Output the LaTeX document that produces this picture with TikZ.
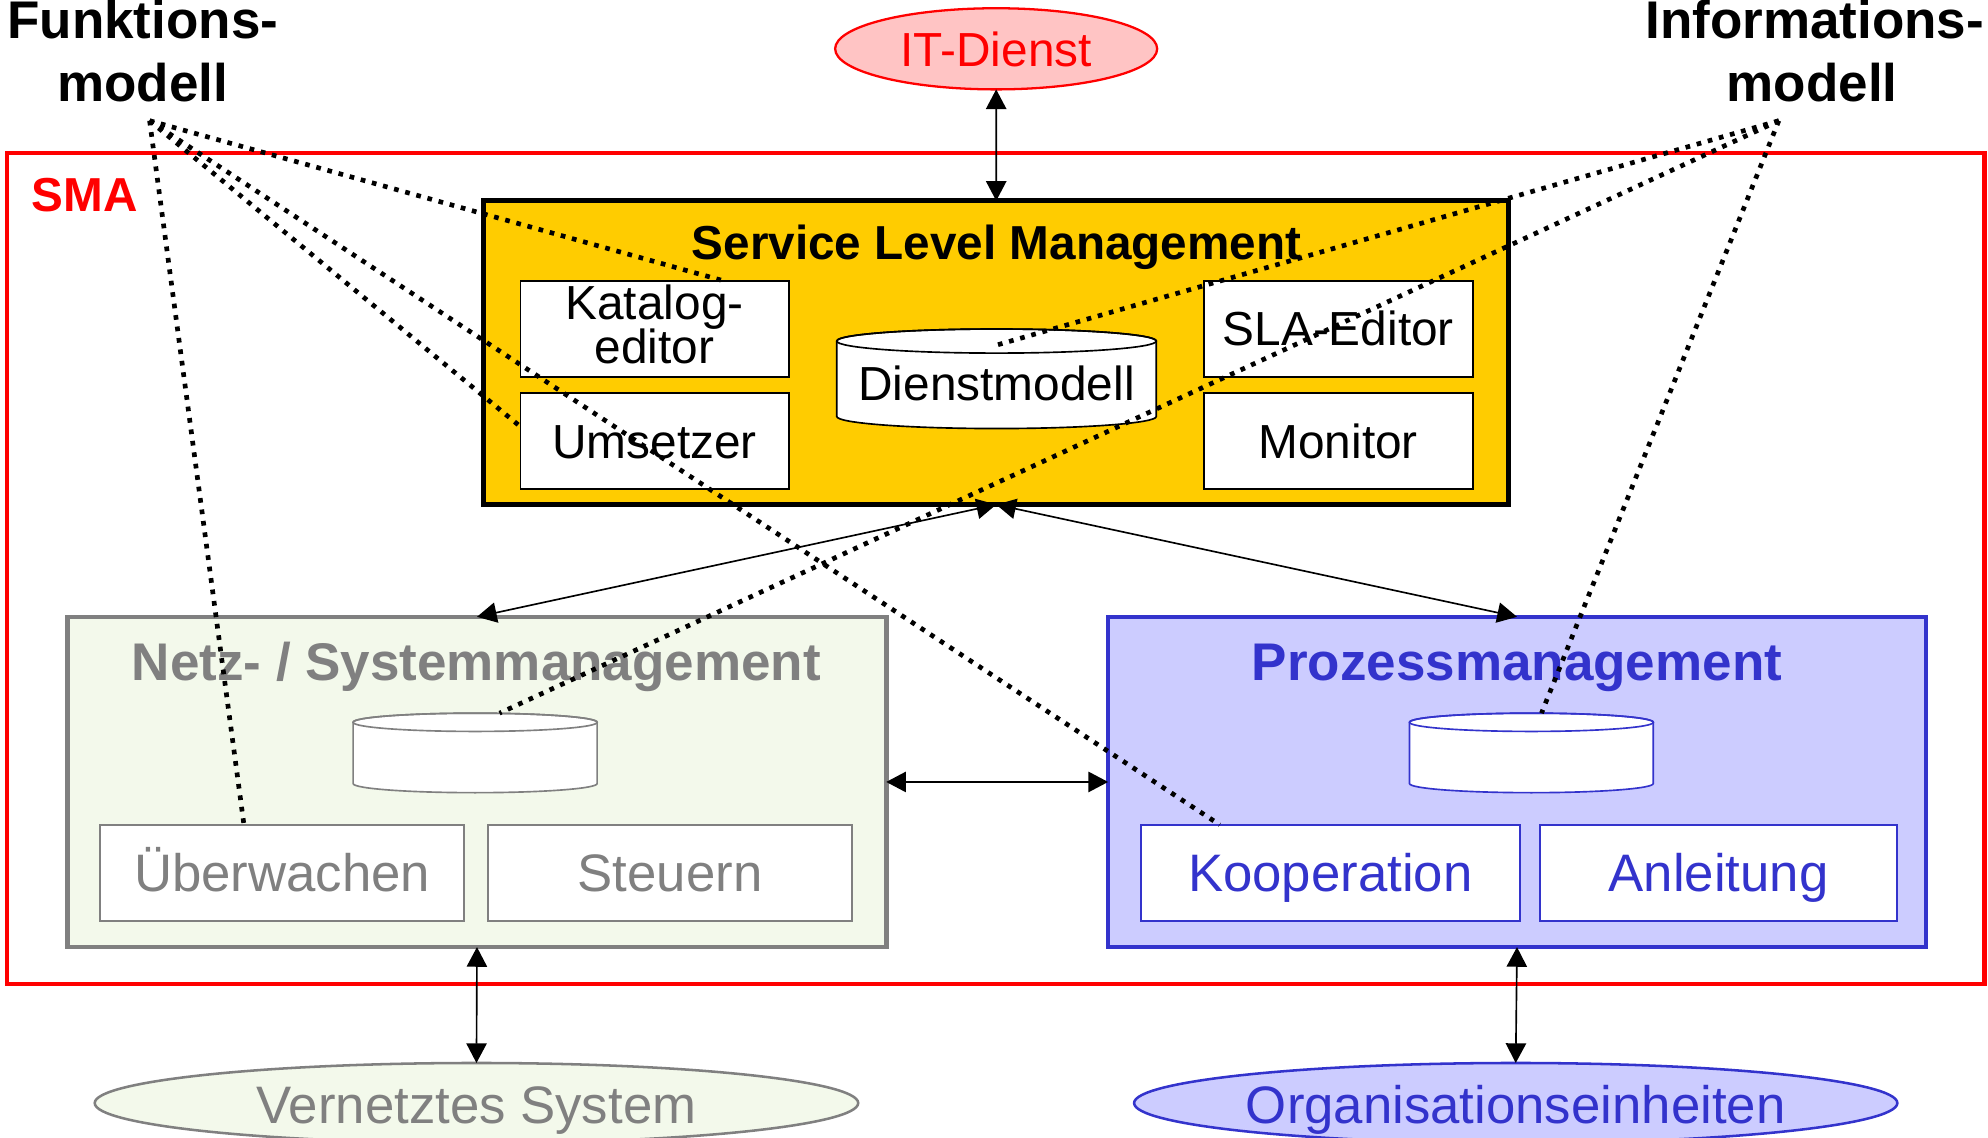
\documentclass[tikz,border=0pt]{standalone}
\usepackage{fontspec}
\setmainfont{Liberation Sans}
\usetikzlibrary{arrows.meta,shapes.geometric}

\definecolor{slmyellow}{HTML}{FFCC00}
\definecolor{netzfill}{HTML}{F3F9EB}
\definecolor{netzgray}{HTML}{808080}
\definecolor{prozfill}{HTML}{CCCCFF}
\definecolor{prozblue}{HTML}{3333CC}
\definecolor{itfill}{HTML}{FFC4C4}
\definecolor{smared}{HTML}{FF0000}

\newcommand\mycyl[6]{%
  \filldraw[fill=white, draw=#6, line width=1.3pt]
    (#1-#2,#3) -- (#1-#2,#4)
    arc[start angle=180,end angle=360,x radius=#2pt,y radius=#5pt]
    -- (#1+#2,#3)
    arc[start angle=0,end angle=180,x radius=#2pt,y radius=#5pt] -- cycle;
  \draw[draw=#6, line width=1.3pt] (#1,#3) ellipse[x radius=#2pt,y radius=#5pt];
}

\begin{document}
\begin{tikzpicture}[x=1pt,y=-1pt,
  every node/.style={inner sep=0pt,outer sep=0pt},
  bigfont/.style={font=\fontsize{41.6}{50}\selectfont},
  midfont/.style={font=\fontsize{37.7}{35}\selectfont},
  bigbold/.style={font=\fontsize{41.8}{50}\selectfont\bfseries},
  midbold/.style={font=\fontsize{37.6}{45}\selectfont\bfseries},
  innerbox/.style={draw, fill=white, line width=1.5pt, rectangle},
  bigtext/.style={bigfont, text height=29.8pt, text depth=0pt},
  midtext/.style={midfont, text height=27pt, text depth=0pt},
  biarrow/.style={line width=1.3pt, {Triangle[length=15.5pt,width=16pt]}-{Triangle[length=15.5pt,width=16pt]}},
  dotline/.style={line width=3.7pt, dash pattern=on 3.7pt off 5.4pt}
]
\useasboundingbox (0,0) rectangle (1568,897);

% SMA frame
\node[draw=smared, line width=3.7pt, rectangle, minimum width=1559.5pt, minimum height=655.5pt] (sma) at (785.25,448.45) {};
\node[midbold, text=smared, anchor=base west] (smalabel) at (25,167) {SMA};

% headings
\node[bigbold, anchor=base] (fm1) at (112.6,30) {Funktions-};
\node[bigbold, anchor=base] (fm2) at (112.5,80.2) {modell};
\node[bigbold, anchor=base] (im1) at (1431.3,30) {Informations-};
\node[bigbold, anchor=base] (im2) at (1429.3,80.2) {modell};
\coordinate (F) at (118,95.2);
\coordinate (I) at (1403,95.2);

% IT-Dienst
\node[ellipse, draw=smared, fill=itfill, line width=1.8pt, minimum width=254pt, minimum height=64pt,
      midfont, text=smared, text height=28.2pt, text depth=0pt] (it) at (785.7,38.5) {IT-Dienst};

% Service Level Management
\node[draw=black, fill=slmyellow, line width=4pt, rectangle, minimum width=808.5pt, minimum height=239.6pt] (slm) at (785.75,278.2) {};
\node[midbold, anchor=base] (slmtitle) at (786,205) {Service Level Management};
\node[innerbox, minimum width=211.5pt, minimum height=75.5pt] (kat) at (516.25,259.25) {};
\node[midfont, anchor=base] (kat1) at (516.25,251.9) {Katalog-};
\node[midfont, anchor=base] (kat2) at (516.25,286.6) {editor};
\node[innerbox, midtext, minimum width=211.5pt, minimum height=76pt] (ums) at (516.25,348) {Umsetzer};
\node[innerbox, midtext, minimum width=212pt, minimum height=75.5pt] (sla) at (1055.5,259.25) {SLA-Editor};
\node[innerbox, midtext, minimum width=212pt, minimum height=76pt] (mon) at (1055.5,348) {Monitor};
\mycyl{786}{126}{269}{328.5}{9.5}{black}
\node[midtext] (dm) at (786,302) {Dienstmodell};
\coordinate (dmtop) at (786.7,272);

% Netz- / Systemmanagement
\node[draw=netzgray, fill=netzfill, line width=3.6pt, rectangle, minimum width=645.6pt, minimum height=260.5pt] (netz) at (376.2,616.75) {};
\node[bigbold, text=netzgray, anchor=base] (netztitle) at (375.75,536.7) {Netz- / Systemmanagement};
\mycyl{374.75}{96.25}{569.7}{618}{7.2}{netzgray}
\coordinate (ncyl) at (394,562.5);
\node[innerbox, draw=netzgray, text=netzgray, bigtext, minimum width=287pt, minimum height=76pt] (ueb) at (222.5,688.5) {Überwachen};
\node[innerbox, draw=netzgray, text=netzgray, bigtext, minimum width=287pt, minimum height=76pt] (steu) at (528.5,688.5) {Steuern};

% Prozessmanagement
\node[draw=prozblue, fill=prozfill, line width=3.6pt, rectangle, minimum width=645pt, minimum height=260.5pt] (proz) at (1196.5,616.75) {};
\node[bigbold, text=prozblue, anchor=base] (proztitle) at (1196.5,536.7) {Prozessmanagement};
\mycyl{1207.85}{96.15}{569.7}{618}{7.2}{prozblue}
\coordinate (pcyl) at (1215.8,562.5);
\node[innerbox, draw=prozblue, text=prozblue, bigtext, minimum width=298.6pt, minimum height=76pt] (koop) at (1049.3,688.5) {Kooperation};
\node[innerbox, draw=prozblue, text=prozblue, bigtext, minimum width=281.2pt, minimum height=76pt] (anl) at (1355.4,688.5) {Anleitung};

% bottom ellipses
\node[ellipse, draw=netzgray, fill=netzfill, line width=2pt, minimum width=602.2pt, minimum height=63.2pt,
      bigfont, text=netzgray, text height=33pt, text depth=0pt] (vern) at (375.8,870) {Vernetztes System};
\node[ellipse, draw=prozblue, fill=prozfill, line width=2pt, minimum width=602pt, minimum height=63.2pt,
      bigfont, text=prozblue, text height=33pt, text depth=0pt] (org) at (1195.5,870) {Organisationseinheiten};

% solid arrows
\draw[biarrow] (it.south) -- (slm.north);
\draw[biarrow] (slm.south) -- (netz.north);
\draw[biarrow] (slm.south) -- (proz.north);
\draw[biarrow] (netz.east) -- (proz.west);
\draw[biarrow] (netz.south) -- (vern.north);
\draw[biarrow] (proz.south) -- (org.north);

% dotted lines
\draw[dotline] (F) -- ([xshift=54.5pt]kat.north);
\draw[dotline] (F) -- ([yshift=11.5pt]ums.west);
\draw[dotline] (F) -- ([xshift=-87.3pt]koop.north);
\draw[dotline] (F) -- ([xshift=-30.1pt]ueb.north);
\draw[dotline] (I) -- (dmtop);
\draw[dotline] (I) -- (ncyl);
\draw[dotline] (I) -- (pcyl);
\end{tikzpicture}
\end{document}
